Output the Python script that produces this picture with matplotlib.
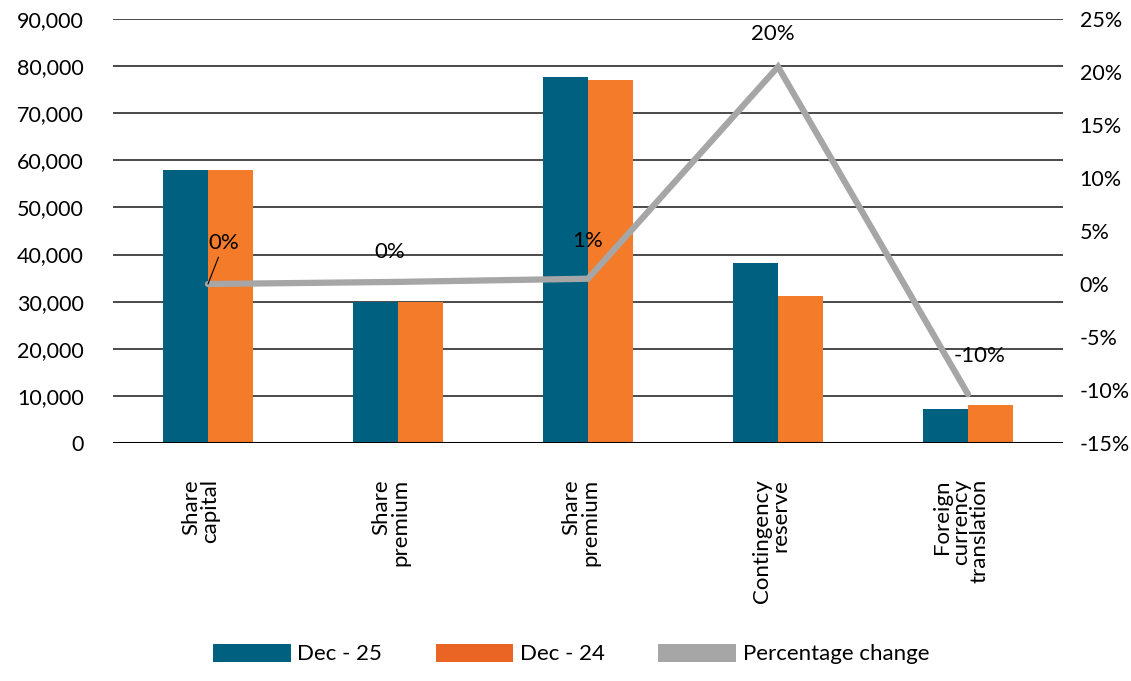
import matplotlib
matplotlib.use("Agg")
import matplotlib.pyplot as plt
import matplotlib.ticker as mticker
import matplotlib.transforms as mtransforms
from matplotlib.patches import Patch
import numpy as np

plt.rcParams['font.family'] = ['Lato', 'DejaVu Sans']

# equity components, thousands
categories = ['Share\ncapital', 'Share\npremium', 'Share\npremium',
              'Contingency\nreserve', 'Foreign\ncurrency\ntranslation']
dec_25 = [58000, 30000, 77700, 38200, 7200]
dec_24 = [58000, 30000, 77000, 31200, 8100]
pct_change = [0.0, 0.2, 0.5, 20.5, -10.4]
pct_labels = ['0%', '0%', '1%', '20%', '-10%']

BLUE = '#00607F'
ORANGE = '#F47B29'
ORANGE_KEY = '#EA6524'
GREY = '#A6A6A6'
GRID = '#3C3C3C'

fig = plt.figure(figsize=(11.31, 6.81), dpi=100)
ax = fig.add_axes([0.0999, 0.3495, 0.8400, 0.6225])
ax2 = ax.twinx()

x = np.arange(len(categories))
w = 0.237
ax.bar(x - w / 2, dec_25, w, color=BLUE, zorder=3)
ax.bar(x + w / 2, dec_24, w, color=ORANGE, zorder=3)

ax.set_xlim(-0.5, len(categories) - 0.5)
ax.set_ylim(0, 90000)
ax.set_yticks(np.arange(0, 90001, 10000))
ax.yaxis.set_major_formatter(mticker.FuncFormatter(lambda v, p: f'{int(v):,}'))
ax.grid(axis='y', color=GRID, linewidth=1.3, zorder=0)
ax.axhline(0, color='black', linewidth=2.2, zorder=4)

for s in ['top', 'left', 'right', 'bottom']:
    ax.spines[s].set_visible(False)
    ax2.spines[s].set_visible(False)

ax.tick_params(axis='y', length=0, pad=21, labelsize=15.5)
ax.tick_params(axis='x', length=0, pad=26)
ax.set_xticks(x)
ax.set_xticklabels(categories, rotation=90, fontsize=16, va='top',
                   ha='center', multialignment='right', linespacing=0.92)
# nudge category labels a little to the left of the group centre
shift = mtransforms.ScaledTranslation(-7 / 100, 0, fig.dpi_scale_trans)
for lbl in ax.get_xticklabels():
    lbl.set_transform(lbl.get_transform() + shift)

# percentage change line on the secondary axis
ax2.set_ylim(-15, 25)
ax2.set_yticks(np.arange(-15, 26, 5))
ax2.yaxis.set_major_formatter(mticker.FuncFormatter(lambda v, p: f'{int(v)}%'))
ax2.tick_params(axis='y', length=0, pad=12, labelsize=15.5)
ax2.plot(x, pct_change, color=GREY, linewidth=4.5, solid_capstyle='round',
         solid_joinstyle='miter', zorder=5)

offsets = [(16, 41), (-8, 30), (0, 38), (-5, 33), (12, 38)]
for i, (v, lab) in enumerate(zip(pct_change, pct_labels)):
    if i == 0:
        ax2.annotate(lab, (x[i], v), xytext=offsets[i], textcoords='offset pixels',
                     ha='center', va='center', fontsize=16, zorder=6,
                     arrowprops=dict(arrowstyle='-', color='black', lw=0.8,
                                     shrinkA=1, shrinkB=0))
    else:
        ax2.annotate(lab, (x[i], v), xytext=offsets[i], textcoords='offset pixels',
                     ha='center', va='center', fontsize=16)

handles = [Patch(facecolor=BLUE, label='Dec - 25'),
           Patch(facecolor=ORANGE_KEY, label='Dec - 24'),
           Patch(facecolor=GREY, label='Percentage change')]
fig.legend(handles=handles, loc='lower center', bbox_to_anchor=(0.505, -0.005),
           ncol=3, frameon=False, fontsize=16, handlelength=3.5,
           handleheight=0.85, handletextpad=0.3, columnspacing=2.4)

fig.savefig('out.png', dpi=100)
